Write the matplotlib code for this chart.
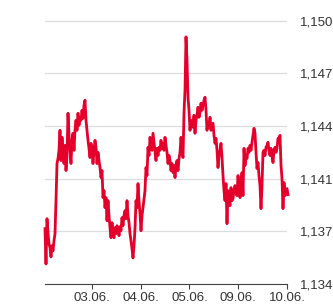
import numpy as np
import matplotlib
matplotlib.use('Agg')
import matplotlib.pyplot as plt

# EUR/USD intraday, un campione ogni ~30 minuti dal 02.06. al 10.06.
cambio = [1.13761, 1.13550, 1.13821, 1.13737, 1.13671, 1.13647, 1.13592, 1.13659, 1.13629, 1.13689,
          1.13731, 1.13929, 1.14151, 1.14181, 1.14230, 1.14350, 1.14169, 1.14308, 1.14230, 1.14151,
          1.14260, 1.14109, 1.14199, 1.14452, 1.14320, 1.14230, 1.14151, 1.14290, 1.14332, 1.14230,
          1.14350, 1.14410, 1.14350, 1.14452, 1.14380, 1.14428, 1.14410, 1.14470, 1.14422, 1.14500,
          1.14530, 1.14410, 1.14350, 1.14290, 1.14242, 1.14187, 1.14272, 1.14230, 1.14151, 1.14230,
          1.14290, 1.14248, 1.14151, 1.14218, 1.14169, 1.14127, 1.14067, 1.14109, 1.13947, 1.13989,
          1.13887, 1.13947, 1.13809, 1.13929, 1.13839, 1.13767, 1.13707, 1.13797, 1.13737, 1.13707,
          1.13767, 1.13731, 1.13779, 1.13767, 1.13719, 1.13773, 1.13749, 1.13827, 1.13779, 1.13839,
          1.13869, 1.13821, 1.13929, 1.13839, 1.13797, 1.13731, 1.13689, 1.13641, 1.13586, 1.13659,
          1.13761, 1.13929, 1.13887, 1.14031, 1.13929, 1.13851, 1.13749, 1.13839, 1.13887, 1.13941,
          1.13989, 1.14127, 1.14079, 1.14248, 1.14199, 1.14308, 1.14260, 1.14230, 1.14332, 1.14278,
          1.14230, 1.14169, 1.14242, 1.14199, 1.14248, 1.14230, 1.14290, 1.14242, 1.14272, 1.14230,
          1.14308, 1.14260, 1.14218, 1.14151, 1.14199, 1.14169, 1.14109, 1.14151, 1.14097, 1.14139,
          1.14067, 1.14139, 1.14169, 1.14109, 1.14181, 1.14218, 1.14308, 1.14230, 1.14187, 1.14452,
          1.14590, 1.14909, 1.14770, 1.14548, 1.14470, 1.14350, 1.14410, 1.14380, 1.14368, 1.14440,
          1.14332, 1.14410, 1.14440, 1.14488, 1.14428, 1.14458, 1.14512, 1.14470, 1.14500, 1.14530,
          1.14548, 1.14470, 1.14350, 1.14398, 1.14368, 1.14428, 1.14350, 1.14380, 1.14392, 1.14320,
          1.14272, 1.14302, 1.14230, 1.14127, 1.14199, 1.14230, 1.14272, 1.14187, 1.14079, 1.13989,
          1.13929, 1.14031, 1.13791, 1.13989, 1.13929, 1.13899, 1.14007, 1.13929, 1.13941, 1.13989,
          1.14019, 1.13977, 1.13959, 1.14079, 1.14019, 1.13947, 1.14037, 1.14097, 1.13959, 1.14242,
          1.14139, 1.14199, 1.14181, 1.14242, 1.14218, 1.14260, 1.14230, 1.14278, 1.14320, 1.14362,
          1.14332, 1.14218, 1.14121, 1.14157, 1.14079, 1.14019, 1.13881, 1.14019, 1.14218, 1.14230,
          1.14199, 1.14248, 1.14260, 1.14278, 1.14230, 1.14199, 1.14242, 1.14199, 1.14157, 1.14230,
          1.14248, 1.14218, 1.14242, 1.14302, 1.14290, 1.14320, 1.14139, 1.14061, 1.13881, 1.14037,
          1.13959, 1.13989, 1.14001, 1.13965]

t0 = 0.036          # primo campione, in giorni di borsa (1 = 03.06.)
passo = 1 / 48.75   # distanza tra campioni in giorni

date_pos = [1, 2, 3, 4, 5]
date_lab = ['03.06.', '04.06.', '05.06.', '09.06.', '10.06.']
y_ticks = [1.1343, 1.13745, 1.1406, 1.14375, 1.1469, 1.15005]
y_lab = ['1,134', '1,137', '1,141', '1,144', '1,147', '1,150']

plt.rcParams['font.family'] = ['Liberation Sans', 'DejaVu Sans']

tempi = t0 + passo * np.arange(len(cambio))

fig = plt.figure(figsize=(3.33, 3.07), dpi=100)
ax = fig.add_axes([45/333, 1 - 284/307, 242/333, 279/307])

ax.plot(tempi, cambio, color='#e4002b', lw=2.0, zorder=3, clip_on=False)

ax.set_xlim(0.036, 5.0)
ax.set_ylim(1.1343, 1.151)
ax.set_yticks(y_ticks)
ax.set_yticklabels(y_lab)
ax.set_xticks(date_pos)
ax.set_xticklabels(date_lab)

ax.yaxis.tick_right()
ax.tick_params(axis='y', length=0, pad=9.5, labelsize=9.5, labelcolor='#333333')
ax.tick_params(axis='x', length=3.5, width=0.8, color='#444444', pad=2.5,
               labelsize=9.5, labelcolor='#333333')

ax.grid(axis='y', color='#dddddd', lw=0.9)
ax.set_axisbelow(True)
for s in ['top', 'right', 'left']:
    ax.spines[s].set_visible(False)
ax.spines['bottom'].set_color('#444444')
ax.spines['bottom'].set_linewidth(0.8)

fig.savefig('out.png', dpi=100)
